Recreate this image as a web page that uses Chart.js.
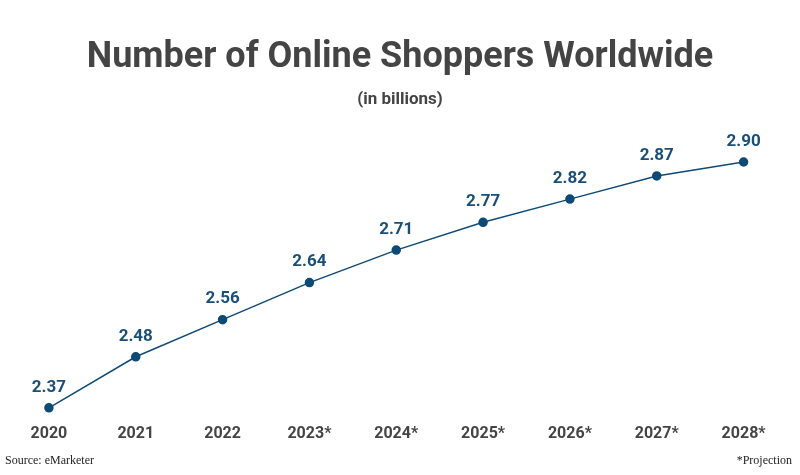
<!DOCTYPE html>
<html>
<head>
<meta charset="utf-8">
<script src="https://cdn.jsdelivr.net/npm/chart.js@4"></script>
<style>
  body { margin: 0; background: #fff; font-family: Roboto, sans-serif; }
  #wrap { position: relative; width: 800px; height: 475px; }
  .title { position: absolute; top: 34px; width: 800px; text-align: center; font-size: 36px; font-weight: bold; color: #444; }
  .sub { position: absolute; top: 88px; width: 800px; text-align: center; font-size: 17px; font-weight: bold; color: #444; }
  .foot { position: absolute; top: 453px; font-family: "Liberation Serif", serif; font-size: 12px; color: #222; }
</style>
</head>
<body>
<div id="wrap">
  <canvas id="chart" width="800" height="475"></canvas>
  <div class="title">Number of Online Shoppers Worldwide</div>
  <div class="sub">(in billions)</div>
  <div class="foot" style="left:5px">Source: eMarketer</div>
  <div class="foot" style="right:8px">*Projection</div>
</div>
<script>
const years = ['2020', '2021', '2022', '2023*', '2024*', '2025*', '2026*', '2027*', '2028*'];
const shoppers = [2.37, 2.48, 2.56, 2.64, 2.71, 2.77, 2.82, 2.87, 2.90];

// draw value labels above each point
const valueLabels = {
  id: 'valueLabels',
  afterDatasetsDraw(chart) {
    const ctx = chart.ctx;
    const meta = chart.getDatasetMeta(0);
    ctx.save();
    ctx.font = 'bold 17px Roboto';
    ctx.fillStyle = '#1b4f78';
    ctx.textAlign = 'center';
    ctx.textBaseline = 'bottom';
    meta.data.forEach((pt, i) => {
      ctx.fillText(shoppers[i].toFixed(2), pt.x, pt.y - 12);
    });
    ctx.restore();
  }
};

new Chart(document.getElementById('chart'), {
  type: 'line',
  data: {
    labels: years,
    datasets: [{
      data: shoppers,
      borderColor: '#0e4a76',
      backgroundColor: '#0e4a76',
      borderWidth: 1.5,
      pointRadius: 4,
      pointHoverRadius: 4,
      tension: 0,
      clip: false
    }]
  },
  options: {
    responsive: false,
    animation: false,
    layout: { padding: { top: 162, bottom: 14, left: 0, right: 13 } },
    plugins: { legend: { display: false }, tooltip: { enabled: false } },
    scales: {
      x: {
        offset: true,
        grid: { display: false, drawTicks: false },
        border: { display: false },
        ticks: { padding: 17, color: '#444', font: { family: 'Roboto', size: 16, weight: 'bold' } }
      },
      y: { display: false, min: 2.37, max: 2.90 }
    }
  },
  plugins: [valueLabels]
});
</script>
</body>
</html>
